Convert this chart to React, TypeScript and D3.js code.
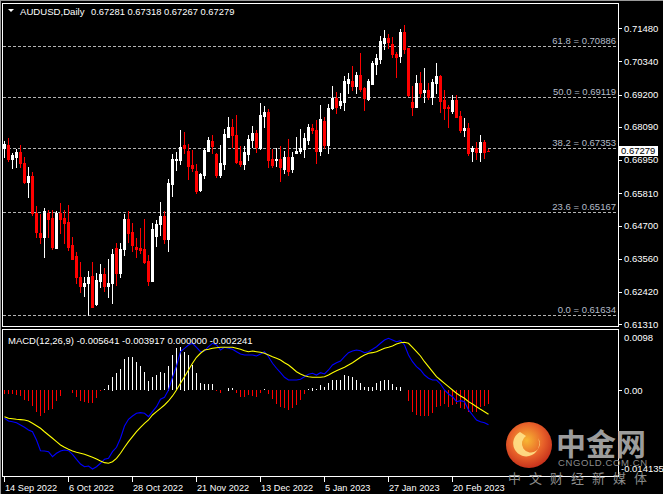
import React from 'react';
import * as d3 from 'd3';

const symbolLabel = 'AUDUSD,Daily';
const lastOHLC = [0.67281, 0.67318, 0.67267, 0.67279];

const openP = [
  0.67356, 0.6747, 0.66978, 0.67068, 0.67229, 0.66862, 0.66209, 0.66405, 0.65123, 0.64436,
  0.64298, 0.65123, 0.64972, 0.63941, 0.65123, 0.64961, 0.64824, 0.64034, 0.63656, 0.62924,
  0.62635, 0.62718, 0.62969, 0.62007, 0.62807, 0.63037, 0.62635, 0.62718, 0.63941, 0.63082,
  0.63886, 0.64927, 0.6448, 0.63975, 0.63941, 0.63896, 0.63484, 0.62807, 0.64353, 0.64745,
  0.6503, 0.6425, 0.6613, 0.66954, 0.66954, 0.6747, 0.67264, 0.66783, 0.66576, 0.65924,
  0.66439, 0.67274, 0.67607, 0.67161, 0.66439, 0.66817, 0.67755, 0.68099, 0.67813, 0.6693,
  0.66817, 0.67161, 0.67642, 0.67892, 0.67356, 0.68466, 0.68604, 0.66978, 0.66954, 0.66978,
  0.66645, 0.67068, 0.66645, 0.67205, 0.67274, 0.67322, 0.67642, 0.68044, 0.67985, 0.67274,
  0.68305, 0.6747, 0.68731, 0.69095, 0.68844, 0.68958, 0.6961, 0.69669, 0.69497, 0.69875,
  0.69439, 0.6904, 0.69566, 0.70253, 0.70425, 0.70964, 0.71136, 0.7094, 0.70586, 0.70538,
  0.71352, 0.70792, 0.68947, 0.68786, 0.6959, 0.69291, 0.6936, 0.69109, 0.6961, 0.69841,
  0.69016, 0.68786, 0.68648, 0.69016, 0.68466, 0.67985, 0.68064, 0.67274, 0.67377, 0.6724,
  0.67573, 0.67281,
];
const highP = [
  0.67617, 0.677, 0.67205, 0.67322, 0.6747, 0.67047, 0.66704, 0.66532, 0.65374, 0.65099,
  0.65295, 0.65236, 0.65236, 0.65212, 0.65467, 0.65236, 0.65408, 0.64319, 0.63793, 0.6346,
  0.62945, 0.6314, 0.6346, 0.63082, 0.63381, 0.63233, 0.63553, 0.63886, 0.64113, 0.64092,
  0.65099, 0.65212, 0.648, 0.64274, 0.64628, 0.64917, 0.6369, 0.648, 0.64893, 0.65522,
  0.65212, 0.66291, 0.67161, 0.6724, 0.67985, 0.67916, 0.67504, 0.67298, 0.66817, 0.66518,
  0.67356, 0.67755, 0.67813, 0.67185, 0.6747, 0.6802, 0.68442, 0.68373, 0.68501, 0.67435,
  0.67435, 0.67813, 0.68123, 0.67985, 0.68923, 0.6881, 0.68696, 0.67322, 0.67356, 0.67435,
  0.67274, 0.67676, 0.6724, 0.67755, 0.6802, 0.67892, 0.68191, 0.68191, 0.68329, 0.68844,
  0.68422, 0.68879, 0.69497, 0.69291, 0.69246, 0.69841, 0.69933, 0.70184, 0.69978, 0.70641,
  0.69473, 0.69727, 0.70366, 0.70597, 0.71215, 0.71421, 0.71284, 0.71191, 0.70655, 0.71445,
  0.71593, 0.70792, 0.69497, 0.69875, 0.69988, 0.70105, 0.6959, 0.69727, 0.70277, 0.69875,
  0.6936, 0.68844, 0.69188, 0.69188, 0.68638, 0.68408, 0.68236, 0.67435, 0.67583, 0.67813,
  0.67642, 0.67318,
];
const lowP = [
  0.67047, 0.6693, 0.66669, 0.66704, 0.66724, 0.66174, 0.65693, 0.65065, 0.64319, 0.64092,
  0.63611, 0.64319, 0.63886, 0.63941, 0.64436, 0.64113, 0.63862, 0.63542, 0.62718, 0.62429,
  0.62292, 0.61634, 0.61893, 0.61972, 0.62601, 0.62464, 0.62237, 0.62051, 0.62659, 0.62945,
  0.6369, 0.64147, 0.63838, 0.63632, 0.63749, 0.63405, 0.62659, 0.62807, 0.63999, 0.64377,
  0.64113, 0.63838, 0.65717, 0.66611, 0.66817, 0.67185, 0.66312, 0.66587, 0.6581, 0.65899,
  0.66326, 0.67274, 0.67185, 0.6638, 0.6638, 0.66645, 0.67755, 0.67411, 0.66841, 0.66759,
  0.66645, 0.66954, 0.67411, 0.6724, 0.67322, 0.68078, 0.66724, 0.66724, 0.66759, 0.66243,
  0.66518, 0.66439, 0.66552, 0.67185, 0.67185, 0.67068, 0.67504, 0.67892, 0.66862, 0.67126,
  0.67356, 0.67185, 0.68696, 0.6858, 0.68731, 0.68672, 0.69267, 0.6936, 0.69267, 0.69325,
  0.68672, 0.69016, 0.69566, 0.69909, 0.70277, 0.70758, 0.70813, 0.70504, 0.69817, 0.70332,
  0.70641, 0.69153, 0.68501, 0.68786, 0.69129, 0.68958, 0.6904, 0.68879, 0.69246, 0.68614,
  0.68363, 0.68099, 0.6858, 0.68422, 0.67927, 0.67779, 0.67126, 0.6693, 0.66989, 0.6693,
  0.67033, 0.67267,
];
const closeP = [
  0.67504, 0.66978, 0.67126, 0.67219, 0.66841, 0.66209, 0.66405, 0.65123, 0.64491, 0.64298,
  0.65212, 0.64927, 0.63975, 0.65123, 0.64927, 0.648, 0.63975, 0.63563, 0.62924, 0.62635,
  0.62738, 0.62945, 0.61914, 0.62831, 0.63037, 0.62635, 0.62738, 0.63725, 0.63061, 0.63896,
  0.64927, 0.64456, 0.64034, 0.63907, 0.63862, 0.63439, 0.62807, 0.64584, 0.64755, 0.6503,
  0.6425, 0.66174, 0.66989, 0.66989, 0.67411, 0.67356, 0.66759, 0.6669, 0.65899, 0.66473,
  0.67298, 0.67642, 0.67435, 0.66439, 0.66862, 0.67848, 0.68099, 0.67813, 0.66896, 0.66817,
  0.67229, 0.67686, 0.67892, 0.67391, 0.68501, 0.68604, 0.66954, 0.66783, 0.66999, 0.66724,
  0.67068, 0.66576, 0.67068, 0.67264, 0.67356, 0.67721, 0.68099, 0.67985, 0.67274, 0.68363,
  0.6747, 0.68751, 0.69074, 0.68765, 0.68982, 0.69679, 0.69727, 0.69497, 0.69875, 0.69384,
  0.69074, 0.69669, 0.70298, 0.70449, 0.71043, 0.71157, 0.70999, 0.70586, 0.70504, 0.71352,
  0.70758, 0.69188, 0.68786, 0.6959, 0.69246, 0.6936, 0.69109, 0.69634, 0.69841, 0.68992,
  0.68751, 0.68731, 0.69016, 0.68442, 0.67985, 0.68064, 0.67205, 0.67356, 0.6724, 0.67573,
  0.6724, 0.67279,
];

const macdMain = [
  -0.00458, -0.00501, -0.00513, -0.00529, -0.00567, -0.00604, -0.00648, -0.00676, -0.00811, -0.00985,
  -0.0099, -0.01001, -0.01083, -0.01027, -0.0099, -0.00974, -0.00985, -0.01044, -0.01125, -0.01202,
  -0.01246, -0.01234, -0.01283, -0.01246, -0.0119, -0.01125, -0.01109, -0.01001, -0.0093, -0.00783,
  -0.00583, -0.00474, -0.0042, -0.00376, -0.00366, -0.00376, -0.00431, -0.0035, -0.00269, -0.00148,
  -0.00116, 0.00003, 0.0021, 0.00394, 0.00627, 0.00682, 0.00736, 0.00764, 0.00698, 0.00627,
  0.00638, 0.00708, 0.00764, 0.00736, 0.00655, 0.00698, 0.00682, 0.00666, 0.00627, 0.00589,
  0.00573, 0.00573, 0.00573, 0.00557, 0.00589, 0.00627, 0.00545, 0.00438, 0.00357, 0.00285,
  0.0021, 0.00166, 0.00166, 0.00166, 0.00177, 0.0022, 0.00259, 0.00275, 0.00247, 0.00285,
  0.00264, 0.00329, 0.0041, 0.00448, 0.00475, 0.00545, 0.00611, 0.00638, 0.00655, 0.00643,
  0.00611, 0.00627, 0.00666, 0.00708, 0.00764, 0.00817, 0.00845, 0.00817, 0.0079, 0.00806,
  0.00736, 0.00573, 0.00464, 0.00383, 0.00329, 0.00247, 0.00194, 0.00166, 0.00166, 0.00101,
  0.00003, -0.00062, -0.00106, -0.00187, -0.00171, -0.00187, -0.00322, -0.00404, -0.00485, -0.00513,
  -0.00529, -0.005641,
];
const macdSignal = [
  -0.00431, -0.00458, -0.00464, -0.00474, -0.0048, -0.00485, -0.00501, -0.00539, -0.00578, -0.0062,
  -0.00676, -0.00729, -0.00783, -0.00838, -0.00892, -0.0093, -0.00962, -0.0099, -0.01011, -0.01027,
  -0.01044, -0.01066, -0.01092, -0.0112, -0.01153, -0.0118, -0.0119, -0.01164, -0.01109, -0.01027,
  -0.0093, -0.00838, -0.00757, -0.00676, -0.00604, -0.00539, -0.00485, -0.00404, -0.0035, -0.00295,
  -0.00241, -0.00176, -0.00094, 0.00003, 0.00112, 0.0022, 0.00329, 0.00438, 0.00536, 0.00601,
  0.00655, 0.00666, 0.00682, 0.00692, 0.00698, 0.00698, 0.00698, 0.00698, 0.00682, 0.00666,
  0.00643, 0.00627, 0.00638, 0.00627, 0.00617, 0.00601, 0.00573, 0.00545, 0.00519, 0.00492,
  0.00448, 0.0041, 0.00357, 0.00301, 0.00264, 0.00236, 0.0022, 0.0021, 0.0021, 0.0021,
  0.0022, 0.00247, 0.00285, 0.00317, 0.00345, 0.00373, 0.0041, 0.00448, 0.00492, 0.00536,
  0.00573, 0.00601, 0.00611, 0.00627, 0.00655, 0.00682, 0.00698, 0.0072, 0.00752, 0.00773,
  0.0078, 0.00764, 0.00698, 0.00627, 0.00557, 0.00464, 0.00383, 0.00301, 0.0022, 0.00166,
  0.00112, 0.00057, 0.00003, -0.0005, -0.00094, -0.00132, -0.00187, -0.00225, -0.00269, -0.00311,
  -0.0035, -0.003917,
];
const macdHist = [
  -0.00062, -0.00067, -0.00067, -0.00078, -0.00094, -0.0016, -0.00187, -0.00257, -0.00366, -0.00431,
  -0.00377, -0.00322, -0.00311, -0.00187, -0.0009, -0.00008, -0.00008, -0.0005, -0.00116, -0.00187,
  -0.00203, -0.00213, -0.00213, -0.00138, -0.00024, 0.00015, 0.00085, 0.0022, 0.00275, 0.0034,
  0.00508, 0.00545, 0.00536, 0.00464, 0.00394, 0.00301, 0.00155, 0.0021, 0.00247, 0.00291,
  0.00275, 0.00399, 0.00573, 0.00682, 0.00698, 0.00627, 0.00573, 0.0041, 0.00275, 0.00122,
  0.001, 0.001, 0.001, -0.00024, -0.00041, 0, 0.00041, 0.0003, -0.00041, -0.00106,
  -0.00116, -0.00078, -0.0009, -0.00106, -0.00041, 0.00024, -0.00067, -0.00148, -0.00225, -0.00279,
  -0.00295, -0.00322, -0.00295, -0.00241, -0.0016, -0.00067, 0.00015, 0.00041, 0.0002, 0.00085,
  0.00047, 0.00112, 0.00166, 0.00166, 0.00166, 0.00247, 0.00231, 0.0021, 0.00166, 0.00112,
  0.00047, 0.00057, 0.00057, 0.00112, 0.00155, 0.00166, 0.00166, 0.001, 0.00047, 0.00057,
  0, -0.00187, -0.00366, -0.00404, -0.00431, -0.00431, -0.00431, -0.00376, -0.00269, -0.00257,
  -0.00225, -0.00269, -0.00241, -0.00225, -0.00295, -0.00311, -0.00366, -0.00366, -0.00366, -0.00279,
  -0.00257, -0.002241,
];
const macdLegend = 'MACD(12,26,9)';
const macdLegendValues = [-0.005641, -0.003917, 0.0, -0.002241];

const priceTicks = [0.7148, 0.7034, 0.692, 0.6809, 0.6695, 0.6581, 0.647, 0.6356, 0.6242, 0.6131];
const macdTicks = [0.0098, 0.0, -0.014135];
const macdTickLabels = ['0.0098', '0.00', '-0.014135'];
const fibLevels = ['61.8', '50.0', '38.2', '23.6', '0.0'];
const fibPrices = [0.70886, 0.69119, 0.67353, 0.65167, 0.61634];
const dateTickIndex = [0, 16, 32, 48, 64, 80, 96, 112];
const dateTickLabels = ['14 Sep 2022', '6 Oct 2022', '28 Oct 2022', '21 Nov 2022', '13 Dec 2022', '5 Jan 2023', '27 Jan 2023', '20 Feb 2023'];

const W = 663;
const H = 494;
const FONT = '"Liberation Sans", Arial, sans-serif';

export default function App() {
  const n = closeP.length;
  const x = d3.scaleLinear().domain([0, n - 1]).range([4, 4 + 4 * (n - 1)]);
  const y = d3.scaleLinear().domain([0.6131, 0.7148]).range([324.3, 28.3]);
  const ym = d3.scaleLinear().domain([-0.014135, 0.0098]).range([477, 330]);
  const r = (v: number) => Math.round(v);

  const mainLine = d3.line<number>().x((_, i) => x(i) + 0.5).y((v) => ym(v));
  const lastY = y(lastOHLC[3]);

  return (
    <svg width={W} height={H} style={{ position: 'fixed', left: 0, top: 0, background: '#000' }} fontFamily={FONT}>
      <defs>
        <clipPath id="mainClip"><rect x={3} y={4} width={615} height={322} /></clipPath>
        <clipPath id="macdClip"><rect x={3} y={330} width={615} height={146} /></clipPath>
        <radialGradient id="logoGrad" cx="45%" cy="40%" r="60%">
          <stop offset="0%" stopColor="#f7b733" />
          <stop offset="60%" stopColor="#e8622a" />
          <stop offset="100%" stopColor="#c8321c" />
        </radialGradient>
      </defs>
      <rect x={0} y={0} width={W} height={H} fill="#000" />

      {/* fib levels */}
      {fibPrices.map((p, k) => (
        <g key={'fib' + k}>
          <line x1={3} x2={618} y1={r(y(p)) + 0.5} y2={r(y(p)) + 0.5} stroke="#b4b4b4" strokeDasharray="3,2" strokeWidth={1} />
          <text x={616} y={r(y(p)) - 2} textAnchor="end" fill="#b4bcc8" fontSize={9.5}>
            {`${fibLevels[k]} = ${p.toFixed(5)}`}
          </text>
        </g>
      ))}

      {/* candles */}
      <g clipPath="url(#mainClip)">
        {closeP.map((c, i) => {
          const o = openP[i];
          const bull = c >= o;
          const col = bull ? '#ffffff' : '#ff0000';
          const yh = r(y(highP[i]));
          const yl = r(y(lowP[i]));
          const yt = r(y(Math.max(o, c)));
          const yb = r(y(Math.min(o, c)));
          const cx = r(x(i));
          return (
            <g key={'c' + i}>
              <rect x={cx} y={yh} width={1} height={Math.max(1, yl - yh + 1)} fill={col} />
              <rect x={cx - 1} y={yt} width={3} height={Math.max(1, yb - yt + 1)} fill={col} />
            </g>
          );
        })}
      </g>

      {/* MACD */}
      <g clipPath="url(#macdClip)">
        {macdHist.map((v, i) => {
          const y0 = ym(0);
          const y1 = ym(v);
          if (Math.abs(y1 - y0) < 0.5) return null;
          return (
            <rect key={'h' + i} x={r(x(i))} y={r(Math.min(y0, y1))} width={1}
              height={Math.max(1, r(Math.abs(y1 - y0)))} fill={v >= 0 ? '#ffffff' : '#ff0000'} />
          );
        })}
        <path d={mainLine(macdMain) || ''} fill="none" stroke="#0000ff" strokeWidth={1.1} />
        <path d={mainLine(macdSignal) || ''} fill="none" stroke="#ffff00" strokeWidth={1.1} />
      </g>

      {/* frames */}
      <line x1={0.5} x2={0.5} y1={0} y2={H} stroke="#9a9a9a" />
      <line x1={0} x2={W} y1={0.5} y2={0.5} stroke="#9a9a9a" />
      <rect x={2.5} y={3.5} width={616} height={323} fill="none" stroke="#ffffff" />
      <rect x={2.5} y={329.5} width={616} height={147} fill="none" stroke="#ffffff" />

      {/* price axis */}
      {priceTicks.map((p, k) => (
        <g key={'pt' + k}>
          <line x1={619} x2={622} y1={r(y(p)) + 0.5} y2={r(y(p)) + 0.5} stroke="#fff" />
          <text x={624} y={y(p)} dy="0.35em" fill="#fff" fontSize={9.5}>{p.toFixed(5)}</text>
        </g>
      ))}
      <rect x={619} y={r(lastY) - 5} width={39} height={10} fill="#fff" />
      <text x={621} y={lastY} dy="0.35em" fill="#000" fontSize={9.5}>{lastOHLC[3].toFixed(5)}</text>

      {/* macd axis */}
      {macdTicks.map((v, k) => (
        <g key={'mt' + k}>
          {k === 1 && <line x1={619} x2={622} y1={r(ym(v)) + 0.5} y2={r(ym(v)) + 0.5} stroke="#fff" />}
          <text x={k === 2 ? 621 : 624} y={k === 0 ? ym(v) + 8 : k === 2 ? ym(v) - 8 : ym(v)} dy="0.35em" fill="#fff" fontSize={9.5}>
            {macdTickLabels[k]}
          </text>
        </g>
      ))}

      {/* date axis */}
      {dateTickIndex.map((idx, k) => (
        <g key={'d' + k}>
          <line x1={r(x(idx)) + 0.5} x2={r(x(idx)) + 0.5} y1={477} y2={482} stroke="#fff" />
          <text x={r(x(idx)) + 1} y={491} fill="#fff" fontSize={9.2}>{dateTickLabels[k]}</text>
        </g>
      ))}

      {/* headers */}
      <path d="M8,9 L14,9 L11,12 Z" fill="#fff" />
      <text x={20} y={15} fill="#fff" fontSize={9.6}>{symbolLabel}</text>
      <text x={91} y={15} fill="#fff" fontSize={9.4}>{lastOHLC.map((v) => v.toFixed(5)).join(' ')}</text>
      <text x={8} y={344} fill="#fff" fontSize={9.5}>
        {`${macdLegend} ${macdLegendValues.map((v) => v.toFixed(6)).join(' ')}`}
      </text>

      {/* watermark logo */}
      <g>
        <circle cx={529} cy={445} r={23} fill="url(#logoGrad)" />
        <path d="M520,432 a13,13 0 1 0 18,6 a9,9 0 1 1 -12,-2 z" fill="#ffe28a" opacity={0.9} />
        <text x={556} y={455} fill="#9c9c9c" fontSize={30} fontWeight="bold" fontFamily='"Noto Sans CJK SC", sans-serif'>中金网</text>
        <text x={558} y={466} fill="#8c8c8c" fontSize={9.5} letterSpacing={0.6}>CNGOLD.COM.CN</text>
        <text x={508} y={483} fill="#8c8c8c" fontSize={13} letterSpacing={8} fontFamily='"Noto Sans CJK SC", sans-serif'>中文财经新媒体</text>
      </g>
    </svg>
  );
}
